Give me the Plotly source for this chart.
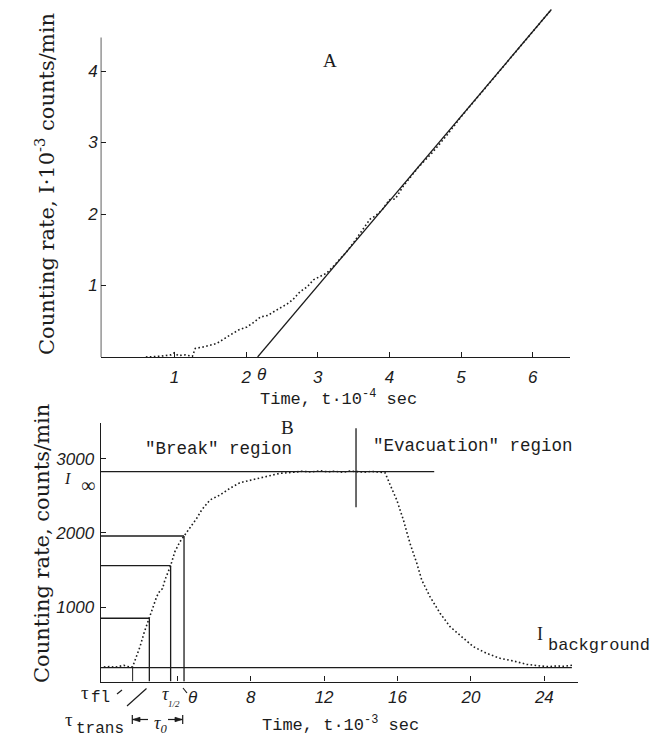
import plotly.graph_objects as go

# ---------------- Panel A data (t in 1e4 s, rate in 1e3 counts/min) ----------------
A_t = [0.6, 0.8, 0.95, 1.0, 1.05, 1.15, 1.25, 1.29, 1.4, 1.59, 1.78, 1.9, 2.01, 2.1, 2.2,
       2.3, 2.38, 2.5, 2.57, 2.65, 2.75, 2.85, 2.94, 3.02, 3.12, 3.2, 3.3, 3.4, 3.5, 3.6,
       3.73, 3.8, 3.9, 4.0, 4.08, 4.2, 4.4, 4.6, 4.8, 5.0, 5.2, 5.4, 5.6, 5.8, 6.0, 6.2, 6.26]
A_rate = [0.0, 0.01, 0.03, 0.06, 0.02, 0.03, 0.01, 0.12, 0.14, 0.19, 0.31, 0.38, 0.42, 0.48, 0.56,
          0.58, 0.63, 0.70, 0.74, 0.80, 0.91, 0.98, 1.08, 1.12, 1.17, 1.25, 1.36, 1.47, 1.60, 1.74,
          1.93, 1.97, 2.06, 2.20, 2.21, 2.40, 2.65, 2.86, 3.10, 3.36, 3.60, 3.84, 4.07, 4.32, 4.55, 4.80, 4.86]
A_fit_t = [2.16, 6.26]
A_fit_rate = [0.0, 4.86]
A_xticks = [1, 2, 3, 4, 5, 6]
A_yticks = [1, 2, 3, 4]

# ---------------- Panel B data (t in 1e3 s, counts/min) ----------------
B_t = [0.0, 0.3, 0.6, 0.9, 1.1, 1.25, 1.4, 1.57, 1.8, 1.97, 2.2, 2.48, 2.7, 2.88, 3.06, 3.2,
       3.33, 3.5, 3.64, 3.87, 4.15, 4.37, 4.69, 5.06, 5.33, 5.78, 6.33, 6.87, 7.42, 8.14, 8.87,
       9.6, 10.3, 10.8, 11.3, 11.8, 12.2, 12.6, 13.0, 13.4, 13.8, 14.2, 14.6, 15.0, 15.32, 15.68,
       15.96, 16.32, 16.68, 17.05, 17.32, 17.77, 18.32, 18.86, 19.4, 20.13, 20.86, 21.59, 22.31,
       23.04, 23.77, 24.2, 24.68, 25.1, 25.58]
B_rate = [195, 200, 192, 205, 218, 205, 196, 199, 360, 468, 660, 851, 1010, 1142, 1222, 1250,
          1366, 1470, 1559, 1747, 1882, 1958, 2062, 2196, 2308, 2443, 2510, 2600, 2676, 2721, 2766,
          2802, 2815, 2830, 2820, 2835, 2822, 2830, 2815, 2832, 2825, 2818, 2828, 2822, 2810, 2600,
          2443, 2174, 1860, 1591, 1366, 1141, 918, 738, 626, 469, 379, 312, 276,
          231, 209, 200, 209, 205, 220]
B_mark_t = [2.48, 3.64, 4.37]
B_mark_rate = [851, 1559, 1958]
tau_fl = 1.57
I_inf = 2824
I_inf_end = 18.0
I_bg = 186
I_bg_end = 25.5
evac_t = 13.74
evac_lo, evac_hi = 2344, 3408
B_xticks = [8, 12, 16, 20, 24]
B_minor_ticks = [4]
B_yticks = [1000, 2000, 3000]

# The page body keeps an 8px margin, so the figure is 8px smaller than the window
OFF = 8
W, H = 662 - OFF, 738 - OFF
INK = "#1c1c1c"


def fx(x):
    return (x - OFF) / W


def fy(y):
    return 1 - (y - OFF) / H


fig = go.Figure()

DOT = "1.6px,2.4px"
# Panel A
fig.add_trace(go.Scatter(x=A_t, y=A_rate, mode="lines", xaxis="x", yaxis="y",
                         line=dict(color=INK, width=1.6, dash=DOT), showlegend=False))
fig.add_trace(go.Scatter(x=A_fit_t, y=A_fit_rate, mode="lines", xaxis="x", yaxis="y",
                         line=dict(color=INK, width=1.3), showlegend=False))
# Panel B
fig.add_trace(go.Scatter(x=B_t, y=B_rate, mode="lines", xaxis="x2", yaxis="y2",
                         line=dict(color=INK, width=1.6, dash=DOT), showlegend=False))

tickfont = dict(family="Liberation Sans", size=17, style="italic", color=INK)
axcommon = dict(showgrid=False, zeroline=False, ticks="inside", ticklen=5, tickwidth=1.2,
                tickcolor=INK, linecolor=INK, linewidth=1.4, tickfont=tickfont)

fig.update_layout(
    width=W, height=H, margin=dict(l=0, r=0, t=0, b=0),
    paper_bgcolor="white", plot_bgcolor="white",
    xaxis=dict(domain=[fx(100.7), fx(570)], range=[-0.03, 6.52], anchor="y", showline=True,
               tickvals=A_xticks, ticklabelstandoff=4, **axcommon),
    yaxis=dict(domain=[fy(357), 1.0], range=[0, (357 - OFF) / 71.5], anchor="x", showline=False,
               tickvals=A_yticks, ticklabelstandoff=2, **axcommon),
    xaxis2=dict(domain=[fx(100.7), fx(578.3)], range=[-0.17, 25.85], anchor="y2", showline=True,
                tickvals=B_xticks, ticklabelstandoff=0,
                minor=dict(tickvals=B_minor_ticks, ticks="inside", ticklen=5, tickcolor=INK, tickwidth=1.2),
                **axcommon),
    yaxis2=dict(domain=[fy(681.5), fy(422.7)], range=[0, 3483], anchor="x2", showline=True,
                tickvals=B_yticks, ticklabelstandoff=2, **axcommon),
)

shapes = []
# Panel A y-axis line (stops below the top of the fitted line)
shapes.append(dict(type="line", xref="x", yref="y", x0=-0.03, x1=-0.03, y0=0, y1=4.47,
                   line=dict(color=INK, width=1.4)))
# Panel B construction lines
for t, r in zip(B_mark_t, B_mark_rate):
    shapes.append(dict(type="line", xref="x2", yref="y2", x0=-0.17, x1=t, y0=r, y1=r,
                       line=dict(color=INK, width=1.3)))
    shapes.append(dict(type="line", xref="x2", yref="y2", x0=t, x1=t, y0=0, y1=r,
                       line=dict(color=INK, width=1.3)))
shapes.append(dict(type="line", xref="x2", yref="y2", x0=tau_fl, x1=tau_fl, y0=0, y1=I_bg,
                   line=dict(color=INK, width=1.0)))
shapes.append(dict(type="line", xref="x2", yref="y2", x0=-0.17, x1=I_bg_end, y0=I_bg, y1=I_bg,
                   line=dict(color=INK, width=1.3)))
shapes.append(dict(type="line", xref="x2", yref="y2", x0=-0.17, x1=I_inf_end, y0=I_inf, y1=I_inf,
                   line=dict(color=INK, width=1.3)))
shapes.append(dict(type="line", xref="x2", yref="y2", x0=evac_t, x1=evac_t, y0=evac_lo, y1=evac_hi,
                   line=dict(color=INK, width=1.3)))


def pline(x0, y0, x1, y1, w=1.2):
    return dict(type="line", xref="paper", yref="paper", x0=fx(x0), y0=fy(y0), x1=fx(x1), y1=fy(y1),
                line=dict(color=INK, width=w))


def tri(pts):
    path = "M " + " L ".join(f"{fx(a):.5f},{fy(b):.5f}" for a, b in pts) + " Z"
    return dict(type="path", xref="paper", yref="paper", path=path,
                fillcolor=INK, line=dict(color=INK, width=0.8))


# leader marks below panel B axis
shapes.append(pline(117, 694, 122, 690))
shapes.append(pline(127, 706, 146.5, 688.5))
shapes.append(pline(183, 688, 187, 693))
# tau0 bracket with arrow heads
shapes.append(pline(132.3, 715, 132.3, 724))
shapes.append(pline(182.7, 715, 182.7, 724))
shapes.append(pline(132.3, 719.5, 148, 719.5))
shapes.append(pline(168, 719.5, 182.7, 719.5))
shapes.append(tri([(133, 719.5), (140, 717.3), (140, 721.7)]))
shapes.append(tri([(182, 719.5), (175, 717.3), (175, 721.7)]))
fig.update_layout(shapes=shapes)

ann = []


def text(x, y, s, size=17, family="Liberation Mono", angle=0, style="normal", xanchor="center"):
    ann.append(dict(x=fx(x), y=fy(y), xref="paper", yref="paper", text=s, showarrow=False,
                    xanchor=xanchor, yanchor="middle", textangle=angle,
                    font=dict(family=family, size=size, color=INK, style=style)))


serif = "DejaVu Serif"
text(45, 184, "Counting rate, I·10<sup>-3</sup> counts/min", size=21, family=serif, angle=-90)
text(42, 544, "Counting rate, counts/min", size=21, family=serif, angle=-90)
text(338, 398, "Time, t·10<sup>-4</sup> sec", size=17)
text(341, 724, "Time, t·10<sup>-3</sup> sec", size=17)
text(330, 60, "A", size=19, family="Liberation Serif")
text(287, 427, "B", size=19, family="Liberation Serif")
text(262, 374, "θ", size=17, family="Liberation Sans", style="italic")
text(218, 449, "\"Break\" region", size=17.5)
text(473, 446, "\"Evacuation\" region", size=17.5)
text(67, 478, "I", size=16, family="Liberation Serif", style="italic")
text(88, 485, "∞", size=20, family="Liberation Serif")
text(540, 634, "I", size=18, family="Liberation Serif")
text(599, 645, "background", size=17)
text(85, 692, "τ", size=19, family="Liberation Serif")
text(100, 698, "fl", size=16)
text(165, 694, "τ", size=18, family="Liberation Serif", style="italic")
text(174.5, 704, "1/2", size=9, family="Liberation Serif", style="italic")
text(193, 697, "θ", size=17, family="Liberation Sans", style="italic")
text(69, 719, "τ", size=19, family="Liberation Serif")
text(100, 729, "trans", size=16)
text(160, 724, "τ<sub>0</sub>", size=18, family="Liberation Serif", style="italic")

fig.update_layout(annotations=ann)
fig.write_html("out.html")
